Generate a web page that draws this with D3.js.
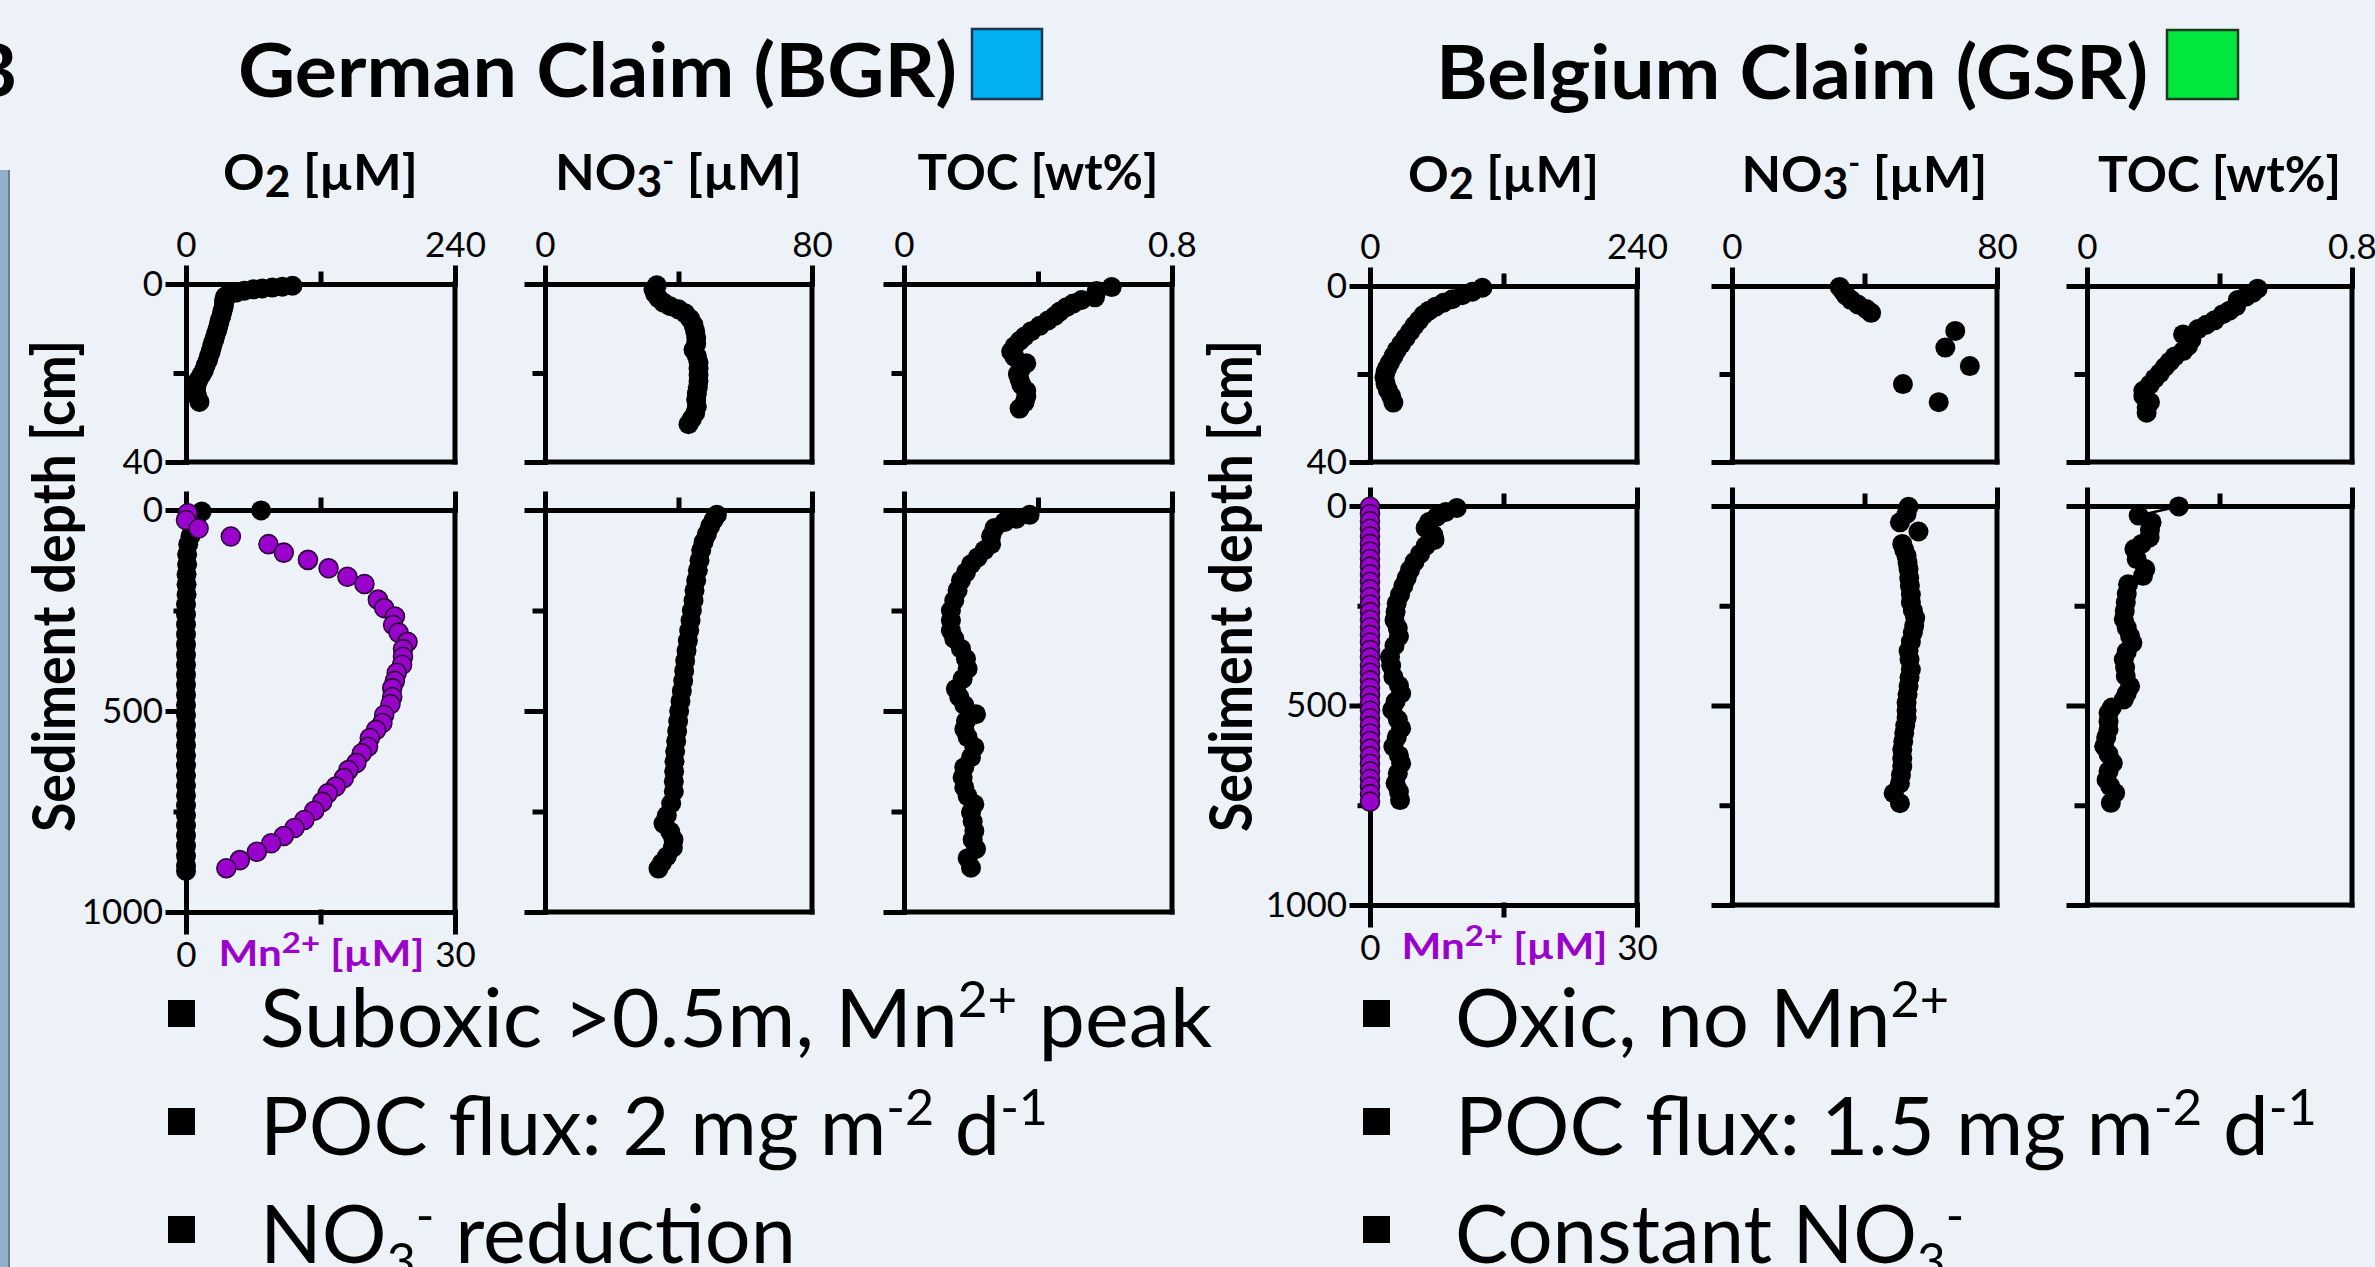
<!DOCTYPE html>
<html>
<head>
<meta charset="utf-8">
<script src="https://cdn.jsdelivr.net/npm/d3@7"></script>
<style>
  html, body { margin: 0; padding: 0; background: #edf2f9; }
  svg { display: block; }
</style>
</head>
<body>
<div id="chart"></div>
<script>
/* -----------------    DATA     ------------------ */
// every profile point is [value, depth in cm]

// German claim (BGR)
const bgrO2Top = [[95,0.4],[86,0.6],[77,0.8],[68,1.0],[60,1.2],[52,1.5],[45,1.9],[39,2.3],[35,2.8],[34,3.6],[34,4.4],[33.5,5.2],[32.5,6.2],[31.5,7.2],[30,8.3],[29,9.3],[28,10.3],[26.5,11.3],[25.5,12.3],[24,13.3],[23,14.2],[22,15.2],[20.5,16.2],[19.5,17.2],[17.5,18.3],[16,19.4],[13.5,20.5],[11,21.6],[9.5,22.7],[8.8,23.9],[10,25.2],[12,26.5]];
const bgrO2Deep = [[67,1],[14,4],[9,25],[6,45],[4,65],[2,85],[1,110],[1,135],[0.5,160],[0.5,185],[0.5,210],[0,235],[0,260],[0,285],[0,310],[0,335],[0,360],[0,385],[0,410],[0,435],[0,460],[0,485],[0,510],[0,535],[0,560],[0,585],[0,610],[0,635],[0,660],[0,685],[0,710],[0,735],[0,760],[0,785],[0,810],[0,835],[0,860],[0,885],[0,898]];
const bgrMnDeep = [[0.2,8],[0,25],[1.4,46],[5.0,66],[9.2,85],[10.9,106],[13.6,124],[15.9,145],[18.0,166],[19.9,184],[21.4,223],[22.1,244],[23.3,265],[23.1,286],[23.7,305],[24.7,328],[24.2,346],[24.2,365],[24.1,385],[23.5,405],[23.3,425],[23.0,443],[23.0,465],[22.8,483],[22.1,510],[21.9,530],[21.2,547],[20.5,567],[20.3,589],[19.6,605],[19.0,629],[18.1,647],[17.6,667],[16.7,688],[15.8,705],[15.2,726],[14.3,748],[13.2,771],[12.1,791],[10.9,811],[9.5,829],[7.9,850],[6.0,871],[4.5,891]];
const bgrNO3Top = [[33.5,0.3],[32.5,1.2],[33,2.2],[34,3.2],[35.5,4.2],[37.5,5],[40,5.7],[42,6.6],[43.5,7.8],[44.5,9.2],[45,10.6],[45.3,12],[45.3,13.4],[44.5,14.8],[45.5,16.2],[46,17.6],[46,19],[46,20.4],[46,21.8],[45.8,23.2],[45.5,24.6],[45.3,26],[45.5,27.5],[45,29],[44,30.3],[43,31.5]];
const bgrNO3Deep = [[51.5,12],[50.5,25],[49.5,40],[48.5,60],[47.5,80],[46.8,100],[46.3,125],[45.8,150],[45.3,175],[44.8,200],[44.5,225],[44,250],[43.6,275],[43.2,300],[42.8,325],[42.4,350],[42,375],[41.7,400],[41.4,425],[41,450],[40.6,475],[40.2,500],[39.9,525],[39.6,550],[39.3,575],[39,600],[38.8,625],[38.7,650],[38.6,675],[38.6,700],[37.8,730],[36.5,760],[35.5,780],[37.5,800],[38.5,820],[38.3,840],[36.5,862],[35,878],[34,892]];
const bgrTOCTop = [[0.62,0.7],[0.575,1.6],[0.57,3.0],[0.53,3.6],[0.505,4.4],[0.485,5.2],[0.465,6.2],[0.45,7.2],[0.43,8.2],[0.405,9.4],[0.38,10.6],[0.36,11.8],[0.345,12.8],[0.33,14],[0.32,15.2],[0.33,16.4],[0.365,17.8],[0.35,19],[0.34,20.2],[0.345,21.4],[0.35,22.6],[0.365,24],[0.365,25.3],[0.36,26.6],[0.345,28]];
const bgrTOCDeep = [[0.375,12],[0.335,22],[0.3,30],[0.27,45],[0.26,65],[0.26,85],[0.24,100],[0.22,118],[0.2,135],[0.185,155],[0.17,175],[0.16,200],[0.15,225],[0.14,250],[0.14,275],[0.14,300],[0.15,320],[0.17,345],[0.185,370],[0.19,395],[0.175,420],[0.155,445],[0.165,465],[0.18,485],[0.215,508],[0.185,525],[0.18,545],[0.19,565],[0.21,590],[0.2,615],[0.18,640],[0.175,665],[0.18,690],[0.19,712],[0.21,732],[0.2,752],[0.205,775],[0.21,798],[0.205,820],[0.215,843],[0.19,866],[0.2,890]];

// Belgium claim (GSR)
const gsrO2Top = [[101,0.4],[92,1.3],[83,2.1],[74,3.0],[66,3.8],[59,4.7],[53,5.6],[48,6.6],[44,7.8],[40,9.0],[36,10.4],[32,11.8],[28,13.2],[24,14.6],[21,16.0],[18,17.4],[15.5,18.6],[14,19.5],[13,20.8],[14,22.2],[16,23.6],[19,25],[21,26.5]];
const gsrO2Deep = [[78,5],[68,15],[60,27],[53,40],[50,55],[57,72],[58,85],[50,100],[45,120],[40,140],[36,160],[33,180],[30,200],[27,222],[24,244],[23,265],[22,286],[25,306],[26,327],[22,350],[18,378],[19,400],[21,428],[26,450],[28,470],[23,490],[20,511],[25,535],[28,557],[24,580],[21,603],[26,625],[28,645],[25,670],[23,695],[26,716],[27,737]];
const gsrMnDeep = [[0,2],[0,20],[0,38],[0,57],[0,76],[0,95],[0,114],[0,133],[0,152],[0,171],[0,190],[0,209],[0,228],[0,247],[0,266],[0,285],[0,304],[0,323],[0,342],[0,361],[0,380],[0,399],[0,418],[0,437],[0,456],[0,475],[0,494],[0,513],[0,532],[0,551],[0,570],[0,589],[0,608],[0,627],[0,646],[0,665],[0,684],[0,703],[0,722],[0,741]];
const gsrNO3Top = [[32.5,0.2],[33.5,1.2],[34.5,2.2],[36,3.2],[38,4.2],[40.5,5.2],[42,6.1],[67.4,10.2],[64.4,14],[71.8,18.2],[51.6,22.3],[62.4,26.4]];
const gsrNO3Deep = [[53.3,2],[52.7,20],[50.7,41],[56.3,64],[51.4,95],[52,110],[52.7,125],[53,142],[53.3,158],[53.5,180],[53.7,200],[54,222],[54,242],[54.6,262],[55.3,280],[55,300],[54.6,317],[54,340],[53.3,363],[53.6,385],[54,410],[53.6,430],[53.3,451],[53,472],[52.7,493],[52.7,512],[52.7,531],[52.3,550],[52,569],[51.7,590],[51.4,610],[51.4,632],[51.4,653],[51,674],[50.7,695],[48.8,720],[50.7,745]];
const gsrTOCTop = [[0.515,0.6],[0.5,1.6],[0.48,2.4],[0.455,3.2],[0.45,4.6],[0.43,5.6],[0.41,6.4],[0.385,7.8],[0.36,8.8],[0.335,9.8],[0.29,11],[0.315,12.2],[0.305,13.6],[0.29,14.8],[0.265,16],[0.25,17.2],[0.235,18.4],[0.22,19.8],[0.205,21],[0.19,22.4],[0.17,23.8],[0.17,25],[0.19,26.4],[0.18,27.6],[0.18,28.8]];
const gsrTOCDeep = [[0.277,1],[0.156,24],[0.195,41],[0.19,60],[0.189,79],[0.165,95],[0.143,108],[0.15,133],[0.176,158],[0.169,175],[0.124,196],[0.12,220],[0.117,242],[0.114,263],[0.111,284],[0.12,305],[0.13,326],[0.137,343],[0.12,365],[0.111,385],[0.115,405],[0.117,426],[0.13,452],[0.12,470],[0.111,485],[0.075,505],[0.065,519],[0.065,540],[0.065,560],[0.058,580],[0.052,602],[0.065,622],[0.078,644],[0.065,665],[0.059,686],[0.07,702],[0.085,719],[0.072,744]];

// axis ranges and tick labels
const axisMax = { O2: 240, NO3: 80, TOC: 0.8, Mn: 30 };
const topTickLabels = { O2: ['0', '240'], NO3: ['0', '80'], TOC: ['0', '0.8'] };
const mnTickLabels = ['0', '30'];
const depthMaxTop = 40;
const depthMaxDeep = 1000;
const depthTicksTop = [0, 40];
const depthTicksDeep = [0, 500, 1000];

// texts
const claimTitles = ['German Claim (BGR)', 'Belgium Claim (GSR)'];
const bgrBullets = [
    ['Suboxic >0.5m, Mn', { t: '2+', sup: true }, ' peak'],
    ['POC flux: 2 mg m', { t: '-2', sup: true }, ' d', { t: '-1', sup: true }],
    ['NO', { t: '3', sub: true }, { t: '-', sup: true }, ' reduction']
];
const gsrBullets = [
    ['Oxic, no Mn', { t: '2+', sup: true }],
    ['POC flux: 1.5 mg m', { t: '-2', sup: true }, ' d', { t: '-1', sup: true }],
    ['Constant NO', { t: '3', sub: true }, { t: '-', sup: true }]
];

/* -----------------    SETTINGS     ------------------ */
const W = 2375, H = 1267;
const FONT = 'Lato, "Open Sans", sans-serif';
const INK = '#000';
const PURPLE = '#9900cc';
const BG = '#edf2f9';
const TICK_FONT = 35;

const claims = [
    {
        title: claimTitles[0], titleX: 238, titleY: 97, titleLen: 719,
        box: { x: 972, y: 29, w: 70, h: 70, fill: '#00b0f0', stroke: '#1d3550' },
        cols: [[186, 455], [545, 812], [904, 1172]],
        top: [284, 462], deep: [510, 912],
        headY: 190, headLen: [195, 247, 241],
        yLabelX: 75, bullets: bgrBullets, bulletX: 168, textX: 260,
        bulletLen: [952, 788, 536],
        data: {
            O2Top: bgrO2Top, O2Deep: bgrO2Deep, MnDeep: bgrMnDeep,
            NO3Top: bgrNO3Top, NO3Deep: bgrNO3Deep, TOCTop: bgrTOCTop, TOCDeep: bgrTOCDeep
        }
    },
    {
        title: claimTitles[1], titleX: 1436, titleY: 99, titleLen: 712,
        box: { x: 2167, y: 30, w: 71, h: 69, fill: '#00e83e', stroke: '#1d3a22' },
        cols: [[1370, 1637], [1732, 1997], [2087, 2352]],
        top: [286, 462], deep: [506, 905],
        headY: 192, headLen: [191, 246, 243],
        yLabelX: 1252, bullets: gsrBullets, bulletX: 1363, textX: 1455,
        bulletLen: [494, 862, 509],
        data: {
            O2Top: gsrO2Top, O2Deep: gsrO2Deep, MnDeep: gsrMnDeep,
            NO3Top: gsrNO3Top, NO3Deep: gsrNO3Deep, TOCTop: gsrTOCTop, TOCDeep: gsrTOCDeep
        }
    }
];

/* -----------------    HELPERS     ------------------ */
// text with sub/superscripts built from tspans
function richText(g, parts, o) {
    const fs = o.size;
    const supScale = o.supScale || 0.62;
    const t = g.append('text')
        .attr('x', o.x).attr('y', o.y)
        .attr('font-family', FONT)
        .attr('font-size', fs)
        .attr('font-weight', o.bold ? 700 : 400)
        .attr('fill', o.fill || INK)
        .attr('text-anchor', o.anchor || 'start');
    if (o.length) t.attr('textLength', o.length).attr('lengthAdjust', 'spacingAndGlyphs');
    if (o.transform) t.attr('transform', o.transform);
    let shift = 0;
    parts.forEach(p => {
        const s = typeof p === 'string' ? { t: p } : p;
        let target = 0, size = fs;
        if (s.sup) { target = -fs * 0.36; size = fs * supScale; }
        if (s.sub) { target = fs * 0.2; size = fs * 0.62; }
        if (s.low) { target = fs * 0.14; size = fs * 0.86; }
        t.append('tspan').attr('dy', target - shift).attr('font-size', size).text(s.t);
        shift = target;
    });
    return t;
}

function drawPanel(g, p) {
    const x = d3.scaleLinear().domain([0, p.xMax]).range([p.x0, p.x1]);
    const y = d3.scaleLinear().domain([0, p.dMax]).range([p.y0, p.y1]);
    const mnX = d3.scaleLinear().domain([0, axisMax.Mn]).range([p.x0, p.x1]);
    const frame = g.append('g');

    // Top axis
    frame.append('g').attr('transform', `translate(0,${p.y0})`)
        .call(d3.axisTop(x).tickValues([0, p.xMax]).tickSize(16).tickSizeOuter(0).tickPadding(11)
            .tickFormat((d, i) => p.topLabels ? p.topLabels[i] : ''));
    frame.append('g').attr('transform', `translate(0,${p.y0})`)
        .call(d3.axisTop(x).tickValues([p.xMax / 2]).tickSize(10).tickFormat(''))
        .select('.domain').remove();

    // Left axis
    const majors = p.dMax === depthMaxTop ? depthTicksTop : depthTicksDeep;
    const minors = p.dMax === depthMaxTop ? [20] : [250, 750];
    frame.append('g').attr('transform', `translate(${p.x0},0)`)
        .call(d3.axisLeft(y).tickValues(majors).tickSize(18).tickSizeOuter(0).tickPadding(5)
            .tickFormat(p.depthLabels ? d3.format('d') : ''));
    frame.append('g').attr('transform', `translate(${p.x0},0)`)
        .call(d3.axisLeft(y).tickValues(minors).tickSize(10).tickFormat(''))
        .select('.domain').remove();

    // Right edge
    frame.append('line')
        .attr('x1', p.x1).attr('x2', p.x1).attr('y1', p.y0).attr('y2', p.y1);

    // Bottom edge (Mn axis on the deep O2 panel)
    if (p.mnAxis) {
        frame.append('g').attr('transform', `translate(0,${p.y1})`)
            .call(d3.axisBottom(mnX).tickValues([0, axisMax.Mn]).tickSize(20).tickSizeOuter(0).tickPadding(10)
                .tickFormat((d, i) => mnTickLabels[i]));
        frame.append('g').attr('transform', `translate(0,${p.y1})`)
            .call(d3.axisBottom(mnX).tickValues([axisMax.Mn / 2]).tickSize(10).tickFormat(''))
            .select('.domain').remove();
        richText(g, ['Mn', { t: '2+', sup: true }, ' [µM]'], {
            x: (p.x0 + p.x1) / 2 + 1, y: p.y1 + 54, size: 36, bold: true, supScale: 0.78,
            fill: PURPLE, anchor: 'middle', length: 206
        });
    } else {
        frame.append('line')
            .attr('x1', p.x0).attr('x2', p.x1).attr('y1', p.y1).attr('y2', p.y1);
    }

    frame.selectAll('path, line')
        .attr('stroke', INK).attr('stroke-width', 5).attr('stroke-linecap', 'square');
    frame.selectAll('g').attr('font-family', FONT).attr('font-size', TICK_FONT);
    frame.selectAll('text').attr('fill', INK).attr('font-family', FONT).attr('font-size', TICK_FONT);

    // Data
    p.series.forEach(s => {
        const sx = s.mn ? mnX : x;
        if (s.line) {
            g.append('path').datum(s.data)
                .attr('d', d3.line().x(d => sx(d[0])).y(d => y(d[1])))
                .attr('fill', 'none').attr('stroke', INK).attr('stroke-width', 2.5);
        }
        g.append('g').selectAll('circle').data(s.data).join('circle')
            .attr('cx', d => sx(d[0]))
            .attr('cy', d => y(d[1]))
            .attr('r', s.mn ? 9.5 : 10)
            .attr('fill', s.mn ? PURPLE : INK)
            .attr('stroke', s.mn ? '#2c0038' : 'none')
            .attr('stroke-width', s.mn ? 1.6 : 0);
    });
}

/* -----------------    DRAW     ------------------ */
const svg = d3.select('#chart').append('svg')
    .attr('width', W).attr('height', H);

svg.append('rect').attr('width', W).attr('height', H).attr('fill', BG);

// edge of the neighbouring picture on the slide
svg.append('rect').attr('x', 0).attr('y', 170).attr('width', 8).attr('height', H - 170).attr('fill', '#93aecb');
svg.append('line').attr('x1', 9).attr('x2', 9).attr('y1', 170).attr('y2', H)
    .attr('stroke', '#6f7b86').attr('stroke-width', 2);
svg.append('text').attr('x', 17).attr('y', 97).attr('text-anchor', 'end')
    .attr('font-family', FONT).attr('font-weight', 700).attr('font-size', 74).text('B');

const headers = [
    ['O', { t: '2', low: true }, ' [µM]'],
    ['NO', { t: '3', low: true }, { t: '-', sup: true }, ' [µM]'],
    ['TOC [wt%]']
];
const keys = ['O2', 'NO3', 'TOC'];

claims.forEach(c => {
    const g = svg.append('g');

    // Title and colour key
    g.append('text')
        .attr('x', c.titleX).attr('y', c.titleY)
        .attr('font-family', FONT).attr('font-weight', 700).attr('font-size', 74)
        .attr('textLength', c.titleLen).attr('lengthAdjust', 'spacingAndGlyphs')
        .text(c.title);
    g.append('rect')
        .attr('x', c.box.x).attr('y', c.box.y).attr('width', c.box.w).attr('height', c.box.h)
        .attr('fill', c.box.fill).attr('stroke', c.box.stroke).attr('stroke-width', 2.5);

    keys.forEach((k, i) => {
        const [x0, x1] = c.cols[i];
        richText(g, headers[i], {
            x: (x0 + x1) / 2, y: c.headY, size: 50, bold: true,
            anchor: 'middle', length: c.headLen[i]
        });

        const withLine = k === 'TOC';
        drawPanel(g, {
            x0, x1, y0: c.top[0], y1: c.top[1], xMax: axisMax[k], dMax: depthMaxTop,
            topLabels: topTickLabels[k], depthLabels: i === 0,
            series: [{ data: c.data[k + 'Top'], line: withLine }]
        });

        const deepSeries = [{ data: c.data[k + 'Deep'], line: withLine }];
        if (k === 'O2') deepSeries.push({ data: c.data.MnDeep, mn: true });
        drawPanel(g, {
            x0, x1, y0: c.deep[0], y1: c.deep[1], xMax: axisMax[k], dMax: depthMaxDeep,
            topLabels: null, depthLabels: i === 0, mnAxis: k === 'O2',
            series: deepSeries
        });
    });

    // Y axis title
    g.append('text')
        .attr('transform', `translate(${c.yLabelX},586) rotate(-90)`)
        .attr('text-anchor', 'middle')
        .attr('font-family', FONT).attr('font-weight', 700).attr('font-size', 60)
        .attr('textLength', 492).attr('lengthAdjust', 'spacingAndGlyphs')
        .text('Sediment depth [cm]');

    // Bullet points
    c.bullets.forEach((b, i) => {
        const base = 1047 + i * 108;
        g.append('rect')
            .attr('x', c.bulletX).attr('y', base - 47).attr('width', 27).attr('height', 27)
            .attr('fill', INK);
        richText(g, b, { x: c.textX, y: base, size: 82, length: c.bulletLen[i] });
    });
});
</script>
</body>
</html>
